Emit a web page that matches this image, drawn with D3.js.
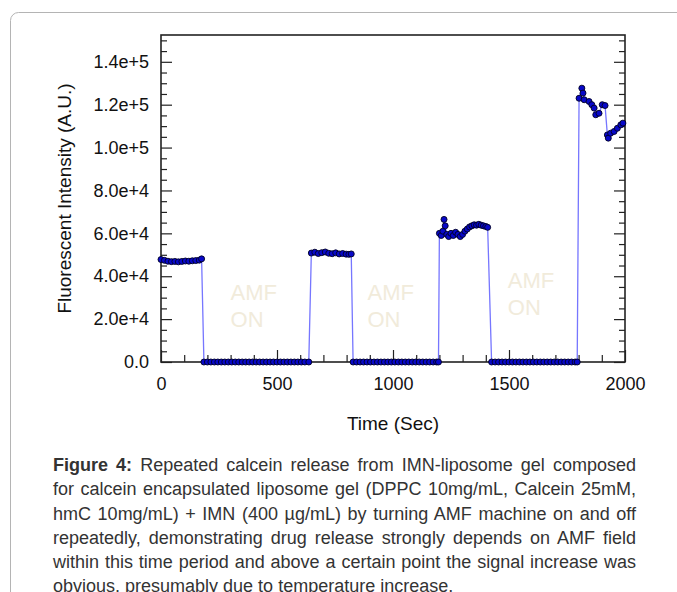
<!DOCTYPE html>
<html>
<head>
<meta charset="utf-8">
<script src="https://cdn.jsdelivr.net/npm/d3@7"></script>
<style>
  html, body { margin: 0; padding: 0; background: #fff; }
  body { width: 677px; height: 592px; position: relative; overflow: hidden; font-family: "Liberation Sans", Arial, sans-serif; }
  #chart { position: absolute; left: 0; top: 0; }
  #caption { position: absolute; left: 53px; top: 453px; width: 583px; font-size: 16px; line-height: 24.3px; color: #333; }
  #caption span { display: block; text-align: justify; text-align-last: justify; white-space: nowrap; }
  #caption span.last { text-align-last: left; }
  #measure { position: absolute; visibility: hidden; white-space: nowrap; font-family: "Liberation Sans", Arial, sans-serif; }
</style>
</head>
<body>
<svg id="chart" width="677" height="592"></svg>
<div id="caption"></div>
<span id="measure"></span>
<script>
// ---- data (time in seconds, fluorescent intensity in A.U.) ----
const seg1Time = [0, 15, 30, 45, 60, 75, 90, 105, 120, 135, 150, 165, 175];
const seg1Value = [47800, 47400, 47000, 46800, 46900, 46700, 46900, 47100, 47000, 47200, 47300, 47500, 48100];

const off1Time = [185, 200, 215, 230, 245, 260, 275, 290, 305, 320, 335, 350, 365, 380, 395, 410, 425, 440, 455, 470, 485, 500, 515, 530, 545, 560, 575, 590, 605, 620, 637];
const off1Value = [0, 0, 0, 0, 0, 0, 0, 0, 0, 0, 0, 0, 0, 0, 0, 0, 0, 0, 0, 0, 0, 0, 0, 0, 0, 0, 0, 0, 0, 0, 0];

const seg3Time = [648, 663, 678, 693, 708, 723, 738, 753, 768, 783, 798, 810, 820];
const seg3Value = [50800, 51200, 50600, 51000, 51300, 50700, 50500, 50900, 50400, 50600, 50300, 50200, 50400];

const off2Time = [828, 843, 858, 873, 888, 903, 918, 933, 948, 963, 978, 993, 1008, 1023, 1038, 1053, 1068, 1083, 1098, 1113, 1128, 1143, 1158, 1173, 1188, 1196];
const off2Value = [0, 0, 0, 0, 0, 0, 0, 0, 0, 0, 0, 0, 0, 0, 0, 0, 0, 0, 0, 0, 0, 0, 0, 0, 0, 0];

const seg5Time = [1200, 1208, 1215, 1220, 1225, 1232, 1240, 1250, 1260, 1270, 1280, 1290, 1300, 1310, 1320, 1330, 1340, 1350, 1360, 1370, 1380, 1390, 1400, 1408];
const seg5Value = [60000, 59000, 61000, 66500, 63500, 59500, 58500, 60000, 59000, 60500, 59500, 58500, 59500, 61000, 62000, 63000, 63500, 64000, 63800, 64200, 63800, 63500, 63200, 62800];

const off3Time = [1425, 1440, 1455, 1470, 1485, 1500, 1515, 1530, 1545, 1560, 1575, 1590, 1605, 1620, 1635, 1650, 1665, 1680, 1695, 1710, 1725, 1740, 1755, 1770, 1785, 1794];
const off3Value = [0, 0, 0, 0, 0, 0, 0, 0, 0, 0, 0, 0, 0, 0, 0, 0, 0, 0, 0, 0, 0, 0, 0, 0, 0, 0];

const seg7Time = [1802, 1814, 1819, 1824, 1845, 1857, 1867, 1874, 1888, 1902, 1914, 1924, 1928, 1938, 1953, 1967, 1982, 1991];
const seg7Value = [123000, 127700, 125400, 122300, 121500, 120000, 118400, 115300, 116000, 120000, 119600, 105900, 104400, 106700, 107500, 109000, 110600, 111400];

const xTickValues = [0, 500, 1000, 1500, 2000];
const xTickLabels = ["0", "500", "1000", "1500", "2000"];
const yTickValues = [0, 20000, 40000, 60000, 80000, 100000, 120000, 140000];
const yTickLabels = ["0.0", "2.0e+4", "4.0e+4", "6.0e+4", "8.0e+4", "1.0e+5", "1.2e+5", "1.4e+5"];
const xMinorStep = 100;
const yMinorStep = 5000;

const annotations = [
  { t: 300, v: 29000, lines: ["AMF", "ON"] },
  { t: 890, v: 29000, lines: ["AMF", "ON"] },
  { t: 1495, v: 34500, lines: ["AMF", "ON"] }
];

const xLabel = "Time (Sec)";
const yLabel = "Fluorescent Intensity (A.U.)";

const captionLines = [
  "<b>Figure 4:</b> Repeated calcein release from IMN-liposome gel composed",
  "for calcein encapsulated liposome gel (DPPC 10mg/mL, Calcein 25mM,",
  "hmC 10mg/mL) + IMN (400 µg/mL) by turning AMF machine on and off",
  "repeatedly, demonstrating drug release strongly depends on AMF field",
  "within this time period and above a certain point the signal increase was",
  "obvious, presumably due to temperature increase."
];

// ---- build ----
const times = [].concat(seg1Time, off1Time, seg3Time, off2Time, seg5Time, off3Time, seg7Time);
const values = [].concat(seg1Value, off1Value, seg3Value, off2Value, seg5Value, off3Value, seg7Value);
const data = times.map((t, i) => ({ t, v: values[i] }));

const svg = d3.select("#chart");
const L = 161, R = 625, T = 35, B = 362;
const x = d3.scaleLinear().domain([0, 2000]).range([L, R]);
const y = d3.scaleLinear().domain([0, 152500]).range([B, T]);

// outer rounded frame
svg.append("rect").attr("x", 10.5).attr("y", 12.5).attr("width", 700).attr("height", 620)
  .attr("rx", 8).attr("fill", "none").attr("stroke", "#b4b4b4").attr("stroke-width", 1);

// annotations (behind data)
annotations.forEach(a => {
  a.lines.forEach((s, i) => {
    svg.append("text").attr("x", x(a.t)).attr("y", y(a.v) + i * 27)
      .attr("font-size", 22).attr("fill", "#f1ebdb").text(s);
  });
});

const tickStyle = g => {
  g.select(".domain").remove();
  g.selectAll(".tick line").attr("stroke", "#222").attr("stroke-width", 1.2);
  g.selectAll(".tick text").attr("font-size", 18).attr("fill", "#111")
    .attr("font-family", "'Liberation Sans', Arial, sans-serif");
};

const yMinor = d3.range(0, 152500, yMinorStep).filter(d => yTickValues.indexOf(d) < 0);
const xMinor = d3.range(xMinorStep, 2000, xMinorStep).filter(d => xTickValues.indexOf(d) < 0);

// left axis
svg.append("g").attr("transform", `translate(${L},0)`)
  .call(d3.axisLeft(y).tickValues(yMinor).tickSize(-6).tickFormat(""))
  .call(tickStyle);
svg.append("g").attr("transform", `translate(${L},0)`)
  .call(d3.axisLeft(y).tickValues(yTickValues).tickSize(-11).tickPadding(12)
    .tickFormat((d, i) => yTickLabels[i]))
  .call(tickStyle);
// right axis (ticks only)
svg.append("g").attr("transform", `translate(${R},0)`)
  .call(d3.axisRight(y).tickValues(yMinor).tickSize(-6).tickFormat(""))
  .call(tickStyle);
svg.append("g").attr("transform", `translate(${R},0)`)
  .call(d3.axisRight(y).tickValues(yTickValues).tickSize(-11).tickFormat(""))
  .call(tickStyle);
// bottom axis
svg.append("g").attr("transform", `translate(0,${B})`)
  .call(d3.axisBottom(x).tickValues(xMinor).tickSize(-7).tickFormat(""))
  .call(tickStyle);
svg.append("g").attr("transform", `translate(0,${B})`)
  .call(d3.axisBottom(x).tickValues(xTickValues).tickSize(-12).tickPadding(15)
    .tickFormat((d, i) => xTickLabels[i]))
  .call(tickStyle);

// plot frame
svg.append("rect").attr("x", L).attr("y", T).attr("width", R - L).attr("height", B - T)
  .attr("fill", "none").attr("stroke", "#222").attr("stroke-width", 1.6);

// line
svg.append("path").datum(data)
  .attr("d", d3.line().x(d => x(d.t)).y(d => y(d.v)))
  .attr("fill", "none").attr("stroke", "#3c3cff").attr("stroke-opacity", 0.7).attr("stroke-width", 1.3);

// markers
svg.append("g").selectAll("circle").data(data).join("circle")
  .attr("cx", d => x(d.t)).attr("cy", d => y(d.v)).attr("r", 3)
  .attr("fill", "#0808c8").attr("stroke", "#000022").attr("stroke-width", 0.9);

// axis titles
svg.append("text").attr("x", (L + R) / 2 - 0).attr("y", 430).attr("text-anchor", "middle")
  .attr("font-size", 19).attr("fill", "#111").text(xLabel);
svg.append("text").attr("transform", `translate(71,${(T + B) / 2}) rotate(-90)`)
  .attr("text-anchor", "middle").attr("font-size", 19).attr("fill", "#111").text(yLabel);

// caption: fit the font so the widest line nearly fills the block
const meas = document.getElementById("measure");
meas.style.fontSize = "20px";
let widest = 0;
captionLines.forEach(s => { meas.innerHTML = s; widest = Math.max(widest, meas.getBoundingClientRect().width); });
const fs = Math.min(18, 20 * 578 / widest);
d3.select("#caption").style("font-size", fs + "px")
  .selectAll("span").data(captionLines).join("span")
  .classed("last", (d, i) => i === captionLines.length - 1)
  .html(d => d);
</script>
</body>
</html>
